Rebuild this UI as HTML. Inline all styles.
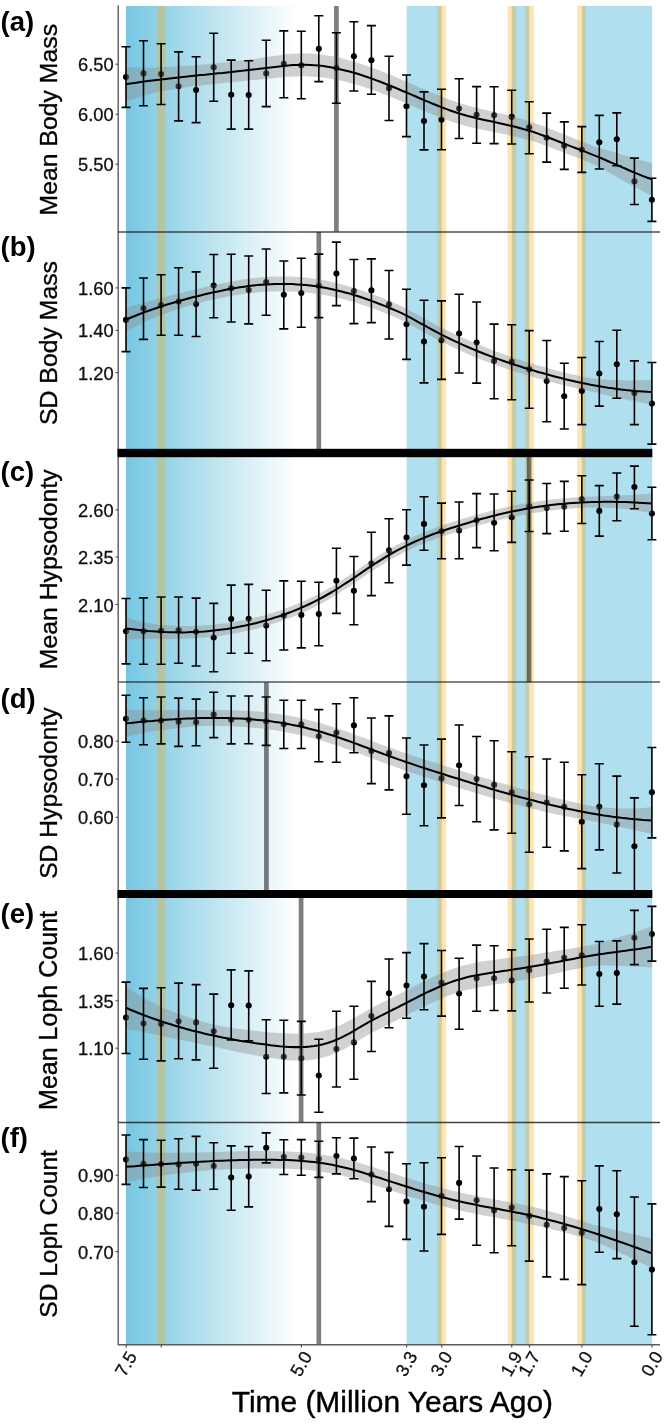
<!DOCTYPE html>
<html lang="en"><head><meta charset="utf-8"><title>Figure</title>
<style>html,body{margin:0;padding:0;background:#fff}body{width:666px;height:1426px;overflow:hidden}</style>
</head><body>
<svg width="666" height="1426" viewBox="0 0 666 1426" style="display:block">
<defs><linearGradient id="g" x1="0" y1="0" x2="1" y2="0"><stop offset="0" stop-color="#77c6e2"/><stop offset="0.12" stop-color="#88cee6"/><stop offset="0.5" stop-color="#bde4ef"/><stop offset="0.85" stop-color="#eef8fb"/><stop offset="0.98" stop-color="#ffffff"/></linearGradient>
<clipPath id="ca"><rect x="100" y="5.9" width="566" height="225.9"/></clipPath>
<clipPath id="cb"><rect x="100" y="231.8" width="566" height="224.89999999999998"/></clipPath>
<clipPath id="cc"><rect x="100" y="456.5" width="566" height="225.70000000000005"/></clipPath>
<clipPath id="cd"><rect x="100" y="682.2" width="566" height="215.79999999999995"/></clipPath>
<clipPath id="ce"><rect x="100" y="897.5" width="566" height="224.79999999999995"/></clipPath>
<clipPath id="cf"><rect x="100" y="1122.3" width="566" height="221.9000000000001"/></clipPath>
</defs>
<rect width="666" height="1426" fill="#fff"/>
<rect x="126" y="5.9" width="175" height="1338.3" fill="url(#g)"/>
<rect x="406.6" y="5.9" width="35.1" height="1338.3" fill="#b0dff0"/>
<rect x="511.7" y="5.9" width="17.6" height="1338.3" fill="#b0dff0"/>
<rect x="581.8" y="5.9" width="70.4" height="1338.3" fill="#b0dff0"/>
<rect x="156.7" y="5.9" width="9.1" height="1338.3" fill="#ffa500" fill-opacity="0.3"/>
<rect x="437.0" y="5.9" width="9.1" height="1338.3" fill="#ffa500" fill-opacity="0.3"/>
<rect x="507.5" y="5.9" width="8.8" height="1338.3" fill="#ffa500" fill-opacity="0.3"/>
<rect x="525.0" y="5.9" width="8.7" height="1338.3" fill="#ffa500" fill-opacity="0.3"/>
<rect x="577.2" y="5.9" width="8.8" height="1338.3" fill="#ffa500" fill-opacity="0.3"/>
<line x1="117.6" x2="660" y1="232.0" y2="232.0" stroke="#111" stroke-opacity="0.56" stroke-width="2.0"/>
<line x1="117.6" x2="660" y1="682.0" y2="682.0" stroke="#111" stroke-opacity="0.52" stroke-width="2.0"/>
<line x1="117.6" x2="660" y1="1122.45" y2="1122.45" stroke="#111" stroke-opacity="0.78" stroke-width="1.4"/>
<path d="M118.2,5.3V1344.7H660" fill="none" stroke="#5c5c5c" stroke-width="1.4" stroke-linejoin="round"/>
<line x1="126.2" x2="126.2" y1="1345" y2="1347.5" stroke="#555" stroke-width="1.2"/>
<line x1="161.3" x2="161.3" y1="1345" y2="1347.5" stroke="#555" stroke-width="1.2"/>
<line x1="301.4" x2="301.4" y1="1345" y2="1347.5" stroke="#555" stroke-width="1.2"/>
<line x1="406.6" x2="406.6" y1="1345" y2="1347.5" stroke="#555" stroke-width="1.2"/>
<line x1="441.7" x2="441.7" y1="1345" y2="1347.5" stroke="#555" stroke-width="1.2"/>
<line x1="511.7" x2="511.7" y1="1345" y2="1347.5" stroke="#555" stroke-width="1.2"/>
<line x1="529.4" x2="529.4" y1="1345" y2="1347.5" stroke="#555" stroke-width="1.2"/>
<line x1="581.8" x2="581.8" y1="1345" y2="1347.5" stroke="#555" stroke-width="1.2"/>
<line x1="652.0" x2="652.0" y1="1345" y2="1347.5" stroke="#555" stroke-width="1.2"/>
<g clip-path="url(#ca)">
<line x1="336.4" x2="336.4" y1="5.9" y2="231.8" stroke="#000" stroke-opacity="0.5" stroke-width="4.7"/>
<circle cx="126.0" cy="77.1" r="3.05" fill="#000"/>
<circle cx="143.5" cy="73.4" r="3.05" fill="#000"/>
<circle cx="161.1" cy="74.0" r="3.05" fill="#000"/>
<circle cx="178.6" cy="86.2" r="3.05" fill="#000"/>
<circle cx="196.1" cy="90.0" r="3.05" fill="#000"/>
<circle cx="213.7" cy="67.3" r="3.05" fill="#000"/>
<circle cx="231.2" cy="94.8" r="3.05" fill="#000"/>
<circle cx="248.7" cy="95.0" r="3.05" fill="#000"/>
<circle cx="266.2" cy="73.4" r="3.05" fill="#000"/>
<circle cx="283.8" cy="63.7" r="3.05" fill="#000"/>
<circle cx="301.3" cy="65.4" r="3.05" fill="#000"/>
<circle cx="318.8" cy="48.8" r="3.05" fill="#000"/>
<circle cx="336.4" cy="67.9" r="3.05" fill="#000"/>
<circle cx="353.9" cy="56.3" r="3.05" fill="#000"/>
<circle cx="371.4" cy="60.3" r="3.05" fill="#000"/>
<circle cx="389.0" cy="88.3" r="3.05" fill="#000"/>
<circle cx="406.5" cy="106.2" r="3.05" fill="#000"/>
<circle cx="424.0" cy="121.1" r="3.05" fill="#000"/>
<circle cx="441.5" cy="119.8" r="3.05" fill="#000"/>
<circle cx="459.1" cy="108.5" r="3.05" fill="#000"/>
<circle cx="476.6" cy="114.8" r="3.05" fill="#000"/>
<circle cx="494.1" cy="115.2" r="3.05" fill="#000"/>
<circle cx="511.7" cy="116.9" r="3.05" fill="#000"/>
<circle cx="529.2" cy="127.2" r="3.05" fill="#000"/>
<circle cx="546.7" cy="137.7" r="3.05" fill="#000"/>
<circle cx="564.2" cy="145.7" r="3.05" fill="#000"/>
<circle cx="581.8" cy="149.7" r="3.05" fill="#000"/>
<circle cx="599.3" cy="142.3" r="3.05" fill="#000"/>
<circle cx="616.8" cy="139.2" r="3.05" fill="#000"/>
<circle cx="634.4" cy="181.4" r="3.05" fill="#000"/>
<circle cx="651.9" cy="199.7" r="3.05" fill="#000"/>
<polygon points="126.0,66.7 130.4,66.9 134.8,67.2 139.1,67.4 143.5,67.5 147.9,67.7 152.3,67.7 156.7,67.6 161.1,67.4 165.4,67.1 169.8,66.9 174.2,66.6 178.6,66.3 183.0,66.0 187.4,65.7 191.7,65.4 196.1,65.1 200.5,64.8 204.9,64.4 209.3,64.0 213.7,63.6 218.0,63.1 222.4,62.6 226.8,62.2 231.2,61.7 235.6,61.2 239.9,60.6 244.3,60.1 248.7,59.6 253.1,59.0 257.5,58.4 261.9,57.8 266.2,57.2 270.6,56.5 275.0,55.8 279.4,55.2 283.8,54.6 288.2,54.1 292.5,53.7 296.9,53.4 301.3,53.3 305.7,53.3 310.1,53.4 314.4,53.7 318.8,54.2 323.2,54.7 327.6,55.4 332.0,56.2 336.4,57.1 340.7,58.1 345.1,59.2 349.5,60.4 353.9,61.7 358.3,63.0 362.7,64.5 367.0,66.0 371.4,67.5 375.8,69.1 380.2,70.8 384.6,72.5 389.0,74.3 393.3,76.1 397.7,77.9 402.1,79.8 406.5,81.7 410.9,83.6 415.2,85.5 419.6,87.4 424.0,89.3 428.4,91.1 432.8,93.0 437.2,94.8 441.5,96.5 445.9,98.2 450.3,99.9 454.7,101.4 459.1,102.9 463.5,104.2 467.8,105.5 472.2,106.7 476.6,107.8 481.0,108.9 485.4,109.9 489.7,111.0 494.1,112.0 498.5,113.0 502.9,114.1 507.3,115.1 511.7,116.2 516.0,117.4 520.4,118.6 524.8,119.8 529.2,121.2 533.6,122.7 538.0,124.2 542.3,125.8 546.7,127.5 551.1,129.3 555.5,131.0 559.9,132.8 564.3,134.5 568.6,136.3 573.0,138.0 577.4,139.7 581.8,141.4 586.2,143.1 590.5,144.9 594.9,146.5 599.3,147.9 603.7,149.2 608.1,150.4 612.5,151.7 616.8,153.0 621.2,154.4 625.6,155.8 630.0,157.1 634.4,158.4 638.8,159.7 643.1,160.8 647.5,161.9 651.9,162.9 651.9,195.9 647.5,193.7 643.1,191.4 638.8,189.1 634.4,186.7 630.0,184.3 625.6,181.9 621.2,179.4 616.8,177.0 612.5,174.5 608.1,171.9 603.7,169.4 599.3,167.0 594.9,164.8 590.5,162.9 586.2,161.2 581.8,159.5 577.4,157.8 573.0,156.1 568.6,154.5 564.3,152.8 559.9,151.1 555.5,149.4 551.1,147.8 546.7,146.1 542.3,144.5 538.0,143.0 533.6,141.6 529.2,140.2 524.8,138.9 520.4,137.8 516.0,136.7 511.7,135.7 507.3,134.8 502.9,133.9 498.5,133.0 494.1,132.2 489.7,131.3 485.4,130.4 481.0,129.5 476.6,128.6 472.2,127.6 467.8,126.5 463.5,125.3 459.1,124.1 454.7,122.7 450.3,121.2 445.9,119.6 441.5,118.0 437.2,116.2 432.8,114.5 428.4,112.7 424.0,110.8 419.6,109.0 415.2,107.1 410.9,105.3 406.5,103.4 402.1,101.5 397.7,99.7 393.3,97.9 389.0,96.1 384.6,94.4 380.2,92.7 375.8,91.1 371.4,89.5 367.0,88.0 362.7,86.6 358.3,85.2 353.9,83.9 349.5,82.7 345.1,81.6 340.7,80.6 336.4,79.7 332.0,78.9 327.6,78.2 323.2,77.5 318.8,77.0 314.4,76.7 310.1,76.4 305.7,76.3 301.3,76.3 296.9,76.4 292.5,76.6 288.2,76.8 283.8,77.2 279.4,77.6 275.0,78.0 270.6,78.4 266.2,78.8 261.9,79.3 257.5,79.7 253.1,80.1 248.7,80.6 244.3,81.0 239.9,81.4 235.6,81.8 231.2,82.3 226.8,82.7 222.4,83.1 218.0,83.5 213.7,84.0 209.3,84.4 204.9,84.9 200.5,85.4 196.1,86.0 191.7,86.6 187.4,87.2 183.0,87.8 178.6,88.5 174.2,89.2 169.8,89.9 165.4,90.6 161.1,91.4 156.7,92.3 152.3,93.3 147.9,94.5 143.5,95.7 139.1,97.1 134.8,98.6 130.4,100.1 126.0,101.7" fill="#8c8c8c" fill-opacity="0.4"/>
<polyline points="126.0,84.2 130.4,83.5 134.8,82.9 139.1,82.3 143.5,81.6 147.9,81.1 152.3,80.5 156.7,79.9 161.1,79.4 165.4,78.9 169.8,78.4 174.2,77.9 178.6,77.4 183.0,76.9 187.4,76.5 191.7,76.0 196.1,75.5 200.5,75.1 204.9,74.7 209.3,74.2 213.7,73.8 218.0,73.3 222.4,72.9 226.8,72.4 231.2,72.0 235.6,71.5 239.9,71.0 244.3,70.6 248.7,70.1 253.1,69.6 257.5,69.1 261.9,68.5 266.2,68.0 270.6,67.4 275.0,66.9 279.4,66.4 283.8,65.9 288.2,65.5 292.5,65.1 296.9,64.9 301.3,64.8 305.7,64.8 310.1,64.9 314.4,65.2 318.8,65.6 323.2,66.1 327.6,66.8 332.0,67.5 336.4,68.4 340.7,69.4 345.1,70.4 349.5,71.6 353.9,72.8 358.3,74.1 362.7,75.5 367.0,77.0 371.4,78.5 375.8,80.1 380.2,81.8 384.6,83.5 389.0,85.2 393.3,87.0 397.7,88.8 402.1,90.7 406.5,92.5 410.9,94.4 415.2,96.3 419.6,98.2 424.0,100.1 428.4,101.9 432.8,103.7 437.2,105.5 441.5,107.2 445.9,108.9 450.3,110.5 454.7,112.0 459.1,113.5 463.5,114.8 467.8,116.0 472.2,117.1 476.6,118.2 481.0,119.2 485.4,120.2 489.7,121.1 494.1,122.1 498.5,123.0 502.9,124.0 507.3,124.9 511.7,126.0 516.0,127.0 520.4,128.2 524.8,129.4 529.2,130.7 533.6,132.1 538.0,133.6 542.3,135.2 546.7,136.8 551.1,138.5 555.5,140.2 559.9,142.0 564.3,143.7 568.6,145.4 573.0,147.1 577.4,148.7 581.8,150.4 586.2,152.1 590.5,153.9 594.9,155.6 599.3,157.4 603.7,159.3 608.1,161.2 612.5,163.1 616.8,165.0 621.2,166.9 625.6,168.8 630.0,170.7 634.4,172.6 638.8,174.4 643.1,176.1 647.5,177.8 651.9,179.4" fill="none" stroke="#000" stroke-width="2.05" stroke-linejoin="round"/>
<path d="M126.0,46.7V107.4M121.5,46.7h9M121.5,107.4h9M143.5,40.8V105.7M139.0,40.8h9M139.0,105.7h9M161.1,43.7V104.5M156.6,43.7h9M156.6,104.5h9M178.6,51.9V120.9M174.1,51.9h9M174.1,120.9h9M196.1,56.8V122.6M191.6,56.8h9M191.6,122.6h9M213.7,33.2V101.3M209.2,33.2h9M209.2,101.3h9M231.2,60.1V129.1M226.7,60.1h9M226.7,129.1h9M248.7,60.8V129.1M244.2,60.8h9M244.2,129.1h9M266.2,40.2V106.6M261.7,40.2h9M261.7,106.6h9M283.8,30.9V97.8M279.3,30.9h9M279.3,97.8h9M301.3,31.3V98.8M296.8,31.3h9M296.8,98.8h9M318.8,15.8V81.6M314.3,15.8h9M314.3,81.6h9M336.4,32.8V103.2M331.9,32.8h9M331.9,103.2h9M353.9,21.7V91.0M349.4,21.7h9M349.4,91.0h9M371.4,25.6V94.2M366.9,25.6h9M366.9,94.2h9M389.0,56.3V120.5M384.5,56.3h9M384.5,120.5h9M406.5,75.0V136.6M402.0,75.0h9M402.0,136.6h9M424.0,91.9V149.9M419.5,91.9h9M419.5,149.9h9M441.5,89.3V149.7M437.0,89.3h9M437.0,149.7h9M459.1,78.8V138.5M454.6,78.8h9M454.6,138.5h9M476.6,86.6V143.2M472.1,86.6h9M472.1,143.2h9M494.1,86.8V143.6M489.6,86.8h9M489.6,143.6h9M511.7,90.2V144.0M507.2,90.2h9M507.2,144.0h9M529.2,101.7V153.7M524.7,101.7h9M524.7,153.7h9M546.7,113.1V162.1M542.2,113.1h9M542.2,162.1h9M564.2,121.9V169.4M559.8,121.9h9M559.8,169.4h9M581.8,126.6V172.4M577.3,126.6h9M577.3,172.4h9M599.3,115.4V169.0M594.8,115.4h9M594.8,169.0h9M616.8,112.9V165.7M612.3,112.9h9M612.3,165.7h9M634.4,158.1V204.5M629.9,158.1h9M629.9,204.5h9M651.9,178.3V221.4M647.4,178.3h9M647.4,221.4h9" fill="none" stroke="#000" stroke-width="1.6"/>
</g>
<g clip-path="url(#cb)">
<line x1="318.8" x2="318.8" y1="231.8" y2="452.7" stroke="#000" stroke-opacity="0.5" stroke-width="4.7"/>
<circle cx="126.0" cy="319.9" r="3.05" fill="#000"/>
<circle cx="143.5" cy="308.3" r="3.05" fill="#000"/>
<circle cx="161.1" cy="305.1" r="3.05" fill="#000"/>
<circle cx="178.6" cy="301.6" r="3.05" fill="#000"/>
<circle cx="196.1" cy="304.1" r="3.05" fill="#000"/>
<circle cx="213.7" cy="285.6" r="3.05" fill="#000"/>
<circle cx="231.2" cy="288.3" r="3.05" fill="#000"/>
<circle cx="248.7" cy="290" r="3.05" fill="#000"/>
<circle cx="266.2" cy="282" r="3.05" fill="#000"/>
<circle cx="283.8" cy="294.8" r="3.05" fill="#000"/>
<circle cx="301.3" cy="293" r="3.05" fill="#000"/>
<circle cx="318.8" cy="285.8" r="3.05" fill="#000"/>
<circle cx="336.4" cy="273.6" r="3.05" fill="#000"/>
<circle cx="353.9" cy="291.1" r="3.05" fill="#000"/>
<circle cx="371.4" cy="290.4" r="3.05" fill="#000"/>
<circle cx="389.0" cy="304.3" r="3.05" fill="#000"/>
<circle cx="406.5" cy="324.3" r="3.05" fill="#000"/>
<circle cx="424.0" cy="341.5" r="3.05" fill="#000"/>
<circle cx="441.5" cy="340.3" r="3.05" fill="#000"/>
<circle cx="459.1" cy="333.5" r="3.05" fill="#000"/>
<circle cx="476.6" cy="342.6" r="3.05" fill="#000"/>
<circle cx="494.1" cy="360.9" r="3.05" fill="#000"/>
<circle cx="511.7" cy="361.9" r="3.05" fill="#000"/>
<circle cx="529.2" cy="369.3" r="3.05" fill="#000"/>
<circle cx="546.7" cy="381" r="3.05" fill="#000"/>
<circle cx="564.2" cy="396.2" r="3.05" fill="#000"/>
<circle cx="581.8" cy="390.9" r="3.05" fill="#000"/>
<circle cx="599.3" cy="373.5" r="3.05" fill="#000"/>
<circle cx="616.8" cy="364.2" r="3.05" fill="#000"/>
<circle cx="634.4" cy="393" r="3.05" fill="#000"/>
<circle cx="651.9" cy="403.5" r="3.05" fill="#000"/>
<polygon points="126.0,307.7 130.4,306.4 134.8,305.2 139.1,303.9 143.5,302.7 147.9,301.6 152.3,300.4 156.7,299.2 161.1,298.0 165.4,296.9 169.8,295.7 174.2,294.6 178.6,293.5 183.0,292.4 187.4,291.3 191.7,290.3 196.1,289.2 200.5,288.2 204.9,287.1 209.3,286.1 213.7,285.1 218.0,284.2 222.4,283.2 226.8,282.4 231.2,281.5 235.6,280.8 239.9,280.0 244.3,279.3 248.7,278.7 253.1,278.2 257.5,277.7 261.9,277.3 266.2,276.9 270.6,276.7 275.0,276.5 279.4,276.4 283.8,276.4 288.2,276.5 292.5,276.6 296.9,276.9 301.3,277.2 305.7,277.6 310.1,278.1 314.4,278.7 318.8,279.4 323.2,280.1 327.6,281.0 332.0,281.9 336.4,282.9 340.7,284.0 345.1,285.2 349.5,286.4 353.9,287.8 358.3,289.2 362.7,290.7 367.0,292.2 371.4,293.8 375.8,295.4 380.2,297.1 384.6,298.9 389.0,300.7 393.3,302.5 397.7,304.4 402.1,306.4 406.5,308.6 410.9,310.9 415.2,313.3 419.6,315.8 424.0,318.2 428.4,320.7 432.8,323.0 437.2,325.4 441.5,327.6 445.9,329.8 450.3,332.0 454.7,334.1 459.1,336.1 463.5,338.1 467.8,340.0 472.2,341.9 476.6,343.7 481.0,345.5 485.4,347.3 489.7,349.0 494.1,350.7 498.5,352.3 502.9,354.0 507.3,355.5 511.7,357.1 516.0,358.6 520.4,360.0 524.8,361.4 529.2,362.8 533.6,364.1 538.0,365.4 542.3,366.6 546.7,367.8 551.1,369.0 555.5,370.2 559.9,371.3 564.3,372.4 568.6,373.5 573.0,374.5 577.4,375.5 581.8,376.4 586.2,377.3 590.5,378.2 594.9,378.8 599.3,379.3 603.7,379.6 608.1,379.8 612.5,380.0 616.8,380.1 621.2,380.3 625.6,380.4 630.0,380.4 634.4,380.4 638.8,380.3 643.1,380.2 647.5,379.9 651.9,379.7 651.9,404.3 647.5,403.6 643.1,402.9 638.8,402.1 634.4,401.3 630.0,400.5 625.6,399.6 621.2,398.7 616.8,397.7 612.5,396.7 608.1,395.5 603.7,394.4 599.3,393.2 594.9,392.1 590.5,391.2 586.2,390.3 581.8,389.4 577.4,388.5 573.0,387.5 568.6,386.5 564.3,385.4 559.9,384.3 555.5,383.2 551.1,382.0 546.7,380.8 542.3,379.6 538.0,378.4 533.6,377.1 529.2,375.8 524.8,374.4 520.4,373.1 516.0,371.7 511.7,370.3 507.3,368.9 502.9,367.4 498.5,366.0 494.1,364.4 489.7,362.8 485.4,361.2 481.0,359.5 476.6,357.7 472.2,355.9 467.8,354.0 463.5,352.1 459.1,350.1 454.7,348.1 450.3,346.0 445.9,343.8 441.5,341.6 437.2,339.4 432.8,337.0 428.4,334.7 424.0,332.2 419.6,329.8 415.2,327.3 410.9,324.9 406.5,322.6 402.1,320.4 397.7,318.4 393.3,316.5 389.0,314.7 384.6,312.9 380.2,311.2 375.8,309.6 371.4,307.9 367.0,306.4 362.7,304.9 358.3,303.5 353.9,302.1 349.5,300.9 345.1,299.6 340.7,298.5 336.4,297.5 332.0,296.5 327.6,295.6 323.2,294.9 318.8,294.2 314.4,293.5 310.1,293.0 305.7,292.5 301.3,292.2 296.9,291.9 292.5,291.6 288.2,291.5 283.8,291.4 279.4,291.4 275.0,291.5 270.6,291.6 266.2,291.8 261.9,292.1 257.5,292.5 253.1,292.9 248.7,293.4 244.3,294.0 239.9,294.6 235.6,295.3 231.2,296.0 226.8,296.8 222.4,297.7 218.0,298.6 213.7,299.5 209.3,300.5 204.9,301.6 200.5,302.7 196.1,303.8 191.7,305.0 187.4,306.2 183.0,307.5 178.6,308.9 174.2,310.4 169.8,311.9 165.4,313.4 161.1,315.0 156.7,316.7 152.3,318.5 147.9,320.5 143.5,322.5 139.1,324.7 134.8,326.9 130.4,329.3 126.0,331.7" fill="#8c8c8c" fill-opacity="0.4"/>
<polyline points="126.0,319.7 130.4,317.8 134.8,316.0 139.1,314.3 143.5,312.6 147.9,311.0 152.3,309.5 156.7,308.0 161.1,306.5 165.4,305.1 169.8,303.8 174.2,302.5 178.6,301.2 183.0,300.0 187.4,298.8 191.7,297.6 196.1,296.5 200.5,295.4 204.9,294.3 209.3,293.3 213.7,292.3 218.0,291.4 222.4,290.5 226.8,289.6 231.2,288.8 235.6,288.0 239.9,287.3 244.3,286.7 248.7,286.1 253.1,285.6 257.5,285.1 261.9,284.7 266.2,284.4 270.6,284.2 275.0,284.0 279.4,283.9 283.8,283.9 288.2,284.0 292.5,284.1 296.9,284.4 301.3,284.7 305.7,285.1 310.1,285.6 314.4,286.1 318.8,286.8 323.2,287.5 327.6,288.3 332.0,289.2 336.4,290.2 340.7,291.3 345.1,292.4 349.5,293.6 353.9,295.0 358.3,296.3 362.7,297.8 367.0,299.3 371.4,300.9 375.8,302.5 380.2,304.2 384.6,305.9 389.0,307.7 393.3,309.5 397.7,311.4 402.1,313.4 406.5,315.6 410.9,317.9 415.2,320.3 419.6,322.8 424.0,325.2 428.4,327.7 432.8,330.0 437.2,332.4 441.5,334.6 445.9,336.8 450.3,339.0 454.7,341.1 459.1,343.1 463.5,345.1 467.8,347.0 472.2,348.9 476.6,350.7 481.0,352.5 485.4,354.2 489.7,355.9 494.1,357.6 498.5,359.1 502.9,360.7 507.3,362.2 511.7,363.7 516.0,365.1 520.4,366.5 524.8,367.9 529.2,369.3 533.6,370.6 538.0,371.9 542.3,373.1 546.7,374.3 551.1,375.5 555.5,376.7 559.9,377.8 564.3,378.9 568.6,380.0 573.0,381.0 577.4,382.0 581.8,382.9 586.2,383.8 590.5,384.7 594.9,385.5 599.3,386.3 603.7,387.0 608.1,387.7 612.5,388.3 616.8,388.9 621.2,389.5 625.6,390.0 630.0,390.4 634.4,390.9 638.8,391.2 643.1,391.5 647.5,391.8 651.9,392.0" fill="none" stroke="#000" stroke-width="2.05" stroke-linejoin="round"/>
<path d="M126.0,287.9V351.6M121.5,287.9h9M121.5,351.6h9M143.5,278V339.4M139.0,278h9M139.0,339.4h9M161.1,274.7V335.2M156.6,274.7h9M156.6,335.2h9M178.6,267.7V335.2M174.1,267.7h9M174.1,335.2h9M196.1,271.9V336.5M191.6,271.9h9M191.6,336.5h9M213.7,254.5V317.8M209.2,254.5h9M209.2,317.8h9M231.2,254.3V322M226.7,254.3h9M226.7,322h9M248.7,256V323.9M244.2,256h9M244.2,323.9h9M266.2,249V315.2M261.7,249h9M261.7,315.2h9M283.8,261V328.9M279.3,261h9M279.3,328.9h9M301.3,258.3V327.2M296.8,258.3h9M296.8,327.2h9M318.8,254.1V317.6M314.3,254.1h9M314.3,317.6h9M336.4,242.1V305.6M331.9,242.1h9M331.9,305.6h9M353.9,259.5V323.6M349.4,259.5h9M349.4,323.6h9M371.4,258.9V322.6M366.9,258.9h9M366.9,322.6h9M389.0,270.5V339M384.5,270.5h9M384.5,339h9M406.5,289.2V359.4M402.0,289.2h9M402.0,359.4h9M424.0,300.3V382.9M419.5,300.3h9M419.5,382.9h9M441.5,300.9V379.4M437.0,300.9h9M437.0,379.4h9M459.1,294.2V373M454.6,294.2h9M454.6,373h9M476.6,302V383.1M472.1,302h9M472.1,383.1h9M494.1,324.1V398.7M489.6,324.1h9M489.6,398.7h9M511.7,324.7V399.7M507.2,324.7h9M507.2,399.7h9M529.2,330.6V408.2M524.7,330.6h9M524.7,408.2h9M546.7,340.5V421.8M542.2,340.5h9M542.2,421.8h9M564.2,363.2V429M559.8,363.2h9M559.8,429h9M581.8,357.5V424.6M577.3,357.5h9M577.3,424.6h9M599.3,341.5V406.1M594.8,341.5h9M594.8,406.1h9M616.8,330.2V398.3M612.3,330.2h9M612.3,398.3h9M634.4,360.9V424.6M629.9,360.9h9M629.9,424.6h9M651.9,362.5V444.1M647.4,362.5h9M647.4,444.1h9" fill="none" stroke="#000" stroke-width="1.6"/>
</g>
<g clip-path="url(#cc)">
<line x1="529.1" x2="529.1" y1="456.5" y2="682.2" stroke="#000" stroke-opacity="0.5" stroke-width="4.7"/>
<circle cx="126.0" cy="631.3" r="3.05" fill="#000"/>
<circle cx="143.5" cy="631.3" r="3.05" fill="#000"/>
<circle cx="161.1" cy="630.7" r="3.05" fill="#000"/>
<circle cx="178.6" cy="630.3" r="3.05" fill="#000"/>
<circle cx="196.1" cy="631.7" r="3.05" fill="#000"/>
<circle cx="213.7" cy="637.6" r="3.05" fill="#000"/>
<circle cx="231.2" cy="619.1" r="3.05" fill="#000"/>
<circle cx="248.7" cy="618.7" r="3.05" fill="#000"/>
<circle cx="266.2" cy="625.6" r="3.05" fill="#000"/>
<circle cx="283.8" cy="615.5" r="3.05" fill="#000"/>
<circle cx="301.3" cy="614.9" r="3.05" fill="#000"/>
<circle cx="318.8" cy="614.1" r="3.05" fill="#000"/>
<circle cx="336.4" cy="580.7" r="3.05" fill="#000"/>
<circle cx="353.9" cy="590.7" r="3.05" fill="#000"/>
<circle cx="371.4" cy="563.6" r="3.05" fill="#000"/>
<circle cx="389.0" cy="550.4" r="3.05" fill="#000"/>
<circle cx="406.5" cy="537.6" r="3.05" fill="#000"/>
<circle cx="424.0" cy="523.9" r="3.05" fill="#000"/>
<circle cx="441.5" cy="531.3" r="3.05" fill="#000"/>
<circle cx="459.1" cy="530.4" r="3.05" fill="#000"/>
<circle cx="476.6" cy="520.3" r="3.05" fill="#000"/>
<circle cx="494.1" cy="522.8" r="3.05" fill="#000"/>
<circle cx="511.7" cy="517.2" r="3.05" fill="#000"/>
<circle cx="529.2" cy="506.2" r="3.05" fill="#000"/>
<circle cx="546.7" cy="508.1" r="3.05" fill="#000"/>
<circle cx="564.2" cy="506.7" r="3.05" fill="#000"/>
<circle cx="581.8" cy="499.3" r="3.05" fill="#000"/>
<circle cx="599.3" cy="510.9" r="3.05" fill="#000"/>
<circle cx="616.8" cy="496.8" r="3.05" fill="#000"/>
<circle cx="634.4" cy="487.1" r="3.05" fill="#000"/>
<circle cx="651.9" cy="513.6" r="3.05" fill="#000"/>
<polygon points="126.0,617.4 130.4,618.7 134.8,619.9 139.1,621.0 143.5,622.1 147.9,623.0 152.3,623.8 156.7,624.4 161.1,624.9 165.4,625.2 169.8,625.5 174.2,625.7 178.6,625.9 183.0,625.9 187.4,625.9 191.7,625.9 196.1,625.7 200.5,625.6 204.9,625.3 209.3,625.0 213.7,624.6 218.0,624.1 222.4,623.6 226.8,623.0 231.2,622.4 235.6,621.6 239.9,620.8 244.3,620.0 248.7,619.1 253.1,618.1 257.5,617.0 261.9,615.9 266.2,614.7 270.6,613.4 275.0,612.0 279.4,610.6 283.8,609.1 288.2,607.4 292.5,605.8 296.9,604.0 301.3,602.1 305.7,600.2 310.1,598.1 314.4,596.0 318.8,593.7 323.2,591.4 327.6,588.9 332.0,586.4 336.4,583.7 340.7,580.9 345.1,578.1 349.5,575.2 353.9,572.2 358.3,569.2 362.7,566.2 367.0,563.2 371.4,560.3 375.8,557.5 380.2,554.7 384.6,552.0 389.0,549.4 393.3,546.9 397.7,544.5 402.1,542.2 406.5,540.0 410.9,537.9 415.2,535.9 419.6,534.0 424.0,532.2 428.4,530.4 432.8,528.7 437.2,527.1 441.5,525.6 445.9,524.1 450.3,522.7 454.7,521.3 459.1,519.9 463.5,518.6 467.8,517.3 472.2,516.0 476.6,514.8 481.0,513.5 485.4,512.4 489.7,511.2 494.1,510.1 498.5,509.0 502.9,508.0 507.3,507.0 511.7,506.0 516.0,505.1 520.4,504.3 524.8,503.5 529.2,502.7 533.6,502.0 538.0,501.3 542.3,500.7 546.7,500.1 551.1,499.6 555.5,499.1 559.9,498.7 564.3,498.2 568.6,497.9 573.0,497.6 577.4,497.3 581.8,497.0 586.2,496.8 590.5,496.7 594.9,496.5 599.3,496.3 603.7,496.1 608.1,495.9 612.5,495.7 616.8,495.6 621.2,495.4 625.6,495.2 630.0,495.0 634.4,494.7 638.8,494.4 643.1,494.1 647.5,493.8 651.9,493.5 651.9,513.5 647.5,512.6 643.1,511.7 638.8,510.9 634.4,510.1 630.0,509.5 625.6,509.0 621.2,508.5 616.8,508.2 612.5,507.9 608.1,507.7 603.7,507.5 599.3,507.4 594.9,507.4 590.5,507.5 586.2,507.6 581.8,507.9 577.4,508.1 573.0,508.4 568.6,508.7 564.3,509.1 559.9,509.6 555.5,510.0 551.1,510.5 546.7,511.1 542.3,511.7 538.0,512.4 533.6,513.1 529.2,513.8 524.8,514.6 520.4,515.4 516.0,516.3 511.7,517.2 507.3,518.2 502.9,519.2 498.5,520.2 494.1,521.3 489.7,522.4 485.4,523.6 481.0,524.7 476.6,526.0 472.2,527.2 467.8,528.5 463.5,529.8 459.1,531.1 454.7,532.5 450.3,533.9 445.9,535.3 441.5,536.8 437.2,538.3 432.8,539.9 428.4,541.6 424.0,543.4 419.6,545.2 415.2,547.1 410.9,549.1 406.5,551.2 402.1,553.4 397.7,555.7 393.3,558.1 389.0,560.6 384.6,563.2 380.2,565.9 375.8,568.7 371.4,571.5 367.0,574.4 362.7,577.4 358.3,580.4 353.9,583.4 349.5,586.4 345.1,589.3 340.7,592.1 336.4,594.9 332.0,597.6 327.6,600.1 323.2,602.6 318.8,604.9 314.4,607.2 310.1,609.3 305.7,611.4 301.3,613.3 296.9,615.2 292.5,617.0 288.2,618.6 283.8,620.3 279.4,621.8 275.0,623.2 270.6,624.6 266.2,625.9 261.9,627.2 257.5,628.4 253.1,629.5 248.7,630.5 244.3,631.5 239.9,632.4 235.6,633.3 231.2,634.1 226.8,634.8 222.4,635.4 218.0,636.0 213.7,636.6 209.3,637.1 204.9,637.5 200.5,637.8 196.1,638.1 191.7,638.4 187.4,638.6 183.0,638.8 178.6,638.9 174.2,638.9 169.8,639.0 165.4,639.0 161.1,638.9 156.7,638.8 152.3,638.9 147.9,638.9 143.5,639.0 139.1,639.1 134.8,639.3 130.4,639.3 126.0,639.4" fill="#8c8c8c" fill-opacity="0.4"/>
<polyline points="126.0,628.4 130.4,629.0 134.8,629.6 139.1,630.1 143.5,630.6 147.9,631.0 152.3,631.3 156.7,631.6 161.1,631.9 165.4,632.1 169.8,632.2 174.2,632.3 178.6,632.4 183.0,632.4 187.4,632.3 191.7,632.1 196.1,631.9 200.5,631.7 204.9,631.4 209.3,631.0 213.7,630.6 218.0,630.1 222.4,629.5 226.8,628.9 231.2,628.2 235.6,627.4 239.9,626.6 244.3,625.7 248.7,624.8 253.1,623.8 257.5,622.7 261.9,621.5 266.2,620.3 270.6,619.0 275.0,617.6 279.4,616.2 283.8,614.7 288.2,613.0 292.5,611.4 296.9,609.6 301.3,607.7 305.7,605.8 310.1,603.7 314.4,601.6 318.8,599.3 323.2,597.0 327.6,594.5 332.0,592.0 336.4,589.3 340.7,586.5 345.1,583.7 349.5,580.8 353.9,577.8 358.3,574.8 362.7,571.8 367.0,568.8 371.4,565.9 375.8,563.1 380.2,560.3 384.6,557.6 389.0,555.0 393.3,552.5 397.7,550.1 402.1,547.8 406.5,545.6 410.9,543.5 415.2,541.5 419.6,539.6 424.0,537.8 428.4,536.0 432.8,534.3 437.2,532.7 441.5,531.2 445.9,529.7 450.3,528.3 454.7,526.9 459.1,525.5 463.5,524.2 467.8,522.9 472.2,521.6 476.6,520.4 481.0,519.1 485.4,518.0 489.7,516.8 494.1,515.7 498.5,514.6 502.9,513.6 507.3,512.6 511.7,511.6 516.0,510.7 520.4,509.9 524.8,509.0 529.2,508.3 533.6,507.5 538.0,506.8 542.3,506.2 546.7,505.6 551.1,505.1 555.5,504.6 559.9,504.1 564.3,503.7 568.6,503.3 573.0,503.0 577.4,502.7 581.8,502.5 586.2,502.2 590.5,502.1 594.9,501.9 599.3,501.9 603.7,501.8 608.1,501.8 612.5,501.8 616.8,501.9 621.2,502.0 625.6,502.1 630.0,502.2 634.4,502.4 638.8,502.7 643.1,502.9 647.5,503.2 651.9,503.5" fill="none" stroke="#000" stroke-width="2.05" stroke-linejoin="round"/>
<path d="M126.0,598.5V663.9M121.5,598.5h9M121.5,663.9h9M143.5,597.9V664.3M139.0,597.9h9M139.0,664.3h9M161.1,597V664.3M156.6,597h9M156.6,664.3h9M178.6,597V663.3M174.1,597h9M174.1,663.3h9M196.1,598.1V666M191.6,598.1h9M191.6,666h9M213.7,603.4V671.7M209.2,603.4h9M209.2,671.7h9M231.2,585.1V653.2M226.7,585.1h9M226.7,653.2h9M248.7,584.4V653.2M244.2,584.4h9M244.2,653.2h9M266.2,590.3V660.7M261.7,590.3h9M261.7,660.7h9M283.8,580.9V650M279.3,580.9h9M279.3,650h9M301.3,581.3V647.9M296.8,581.3h9M296.8,647.9h9M318.8,582.3V645.8M314.3,582.3h9M314.3,645.8h9M336.4,548.3V613.4M331.9,548.3h9M331.9,613.4h9M353.9,556.5V624.8M349.4,556.5h9M349.4,624.8h9M371.4,532.3V595.6M366.9,532.3h9M366.9,595.6h9M389.0,518.8V582.8M384.5,518.8h9M384.5,582.8h9M406.5,509.8V565.1M402.0,509.8h9M402.0,565.1h9M424.0,496.8V550.2M419.5,496.8h9M419.5,550.2h9M441.5,503.1V558.8M437.0,503.1h9M437.0,558.8h9M459.1,502V558.8M454.6,502h9M454.6,558.8h9M476.6,493.6V547.6M472.1,493.6h9M472.1,547.6h9M494.1,494V550.8M489.6,494h9M489.6,550.8h9M511.7,491.3V542.4M507.2,491.3h9M507.2,542.4h9M529.2,480V531.5M524.7,480h9M524.7,531.5h9M546.7,483.5V533.6M542.2,483.5h9M542.2,533.6h9M564.2,481.4V531.3M559.8,481.4h9M559.8,531.3h9M581.8,475.8V523.5M577.3,475.8h9M577.3,523.5h9M599.3,485.6V536.1M594.8,485.6h9M594.8,536.1h9M616.8,473V520.7M612.3,473h9M612.3,520.7h9M634.4,466.1V508.8M629.9,466.1h9M629.9,508.8h9M651.9,487.3V539.7M647.4,487.3h9M647.4,539.7h9" fill="none" stroke="#000" stroke-width="1.6"/>
</g>
<g clip-path="url(#cd)">
<line x1="266.4" x2="266.4" y1="682.2" y2="894.0" stroke="#000" stroke-opacity="0.5" stroke-width="4.7"/>
<circle cx="126.0" cy="718.7" r="3.05" fill="#000"/>
<circle cx="143.5" cy="720.6" r="3.05" fill="#000"/>
<circle cx="161.1" cy="720.6" r="3.05" fill="#000"/>
<circle cx="178.6" cy="721.8" r="3.05" fill="#000"/>
<circle cx="196.1" cy="722.2" r="3.05" fill="#000"/>
<circle cx="213.7" cy="714.5" r="3.05" fill="#000"/>
<circle cx="231.2" cy="719.7" r="3.05" fill="#000"/>
<circle cx="248.7" cy="719.7" r="3.05" fill="#000"/>
<circle cx="266.2" cy="721.2" r="3.05" fill="#000"/>
<circle cx="283.8" cy="724.3" r="3.05" fill="#000"/>
<circle cx="301.3" cy="724.3" r="3.05" fill="#000"/>
<circle cx="318.8" cy="736.3" r="3.05" fill="#000"/>
<circle cx="336.4" cy="732.8" r="3.05" fill="#000"/>
<circle cx="353.9" cy="725.4" r="3.05" fill="#000"/>
<circle cx="371.4" cy="751" r="3.05" fill="#000"/>
<circle cx="389.0" cy="753.1" r="3.05" fill="#000"/>
<circle cx="406.5" cy="776.3" r="3.05" fill="#000"/>
<circle cx="424.0" cy="785.3" r="3.05" fill="#000"/>
<circle cx="441.5" cy="778.4" r="3.05" fill="#000"/>
<circle cx="459.1" cy="765.3" r="3.05" fill="#000"/>
<circle cx="476.6" cy="779" r="3.05" fill="#000"/>
<circle cx="494.1" cy="784.9" r="3.05" fill="#000"/>
<circle cx="511.7" cy="792.2" r="3.05" fill="#000"/>
<circle cx="529.2" cy="804.2" r="3.05" fill="#000"/>
<circle cx="546.7" cy="802.6" r="3.05" fill="#000"/>
<circle cx="564.2" cy="806.8" r="3.05" fill="#000"/>
<circle cx="581.8" cy="821.7" r="3.05" fill="#000"/>
<circle cx="599.3" cy="806.8" r="3.05" fill="#000"/>
<circle cx="616.8" cy="824.4" r="3.05" fill="#000"/>
<circle cx="634.4" cy="846.3" r="3.05" fill="#000"/>
<circle cx="651.9" cy="792.2" r="3.05" fill="#000"/>
<polygon points="126.0,709.8 130.4,709.9 134.8,710.0 139.1,710.1 143.5,710.2 147.9,710.2 152.3,710.2 156.7,710.2 161.1,710.2 165.4,710.1 169.8,710.0 174.2,710.0 178.6,710.0 183.0,709.9 187.4,709.9 191.7,709.9 196.1,709.9 200.5,709.9 204.9,709.9 209.3,709.9 213.7,709.9 218.0,709.9 222.4,710.0 226.8,710.1 231.2,710.2 235.6,710.3 239.9,710.5 244.3,710.7 248.7,711.0 253.1,711.3 257.5,711.6 261.9,712.0 266.2,712.5 270.6,713.0 275.0,713.6 279.4,714.2 283.8,714.9 288.2,715.6 292.5,716.4 296.9,717.3 301.3,718.3 305.7,719.3 310.1,720.4 314.4,721.5 318.8,722.7 323.2,724.0 327.6,725.3 332.0,726.7 336.4,728.1 340.7,729.6 345.1,731.1 349.5,732.7 353.9,734.3 358.3,735.9 362.7,737.5 367.0,739.1 371.4,740.8 375.8,742.4 380.2,744.0 384.6,745.7 389.0,747.3 393.3,748.8 397.7,750.4 402.1,751.9 406.5,753.4 410.9,754.9 415.2,756.4 419.6,757.8 424.0,759.3 428.4,760.7 432.8,762.1 437.2,763.5 441.5,764.9 445.9,766.2 450.3,767.6 454.7,769.0 459.1,770.3 463.5,771.7 467.8,773.0 472.2,774.4 476.6,775.7 481.0,777.0 485.4,778.3 489.7,779.6 494.1,781.0 498.5,782.3 502.9,783.6 507.3,784.8 511.7,786.1 516.0,787.4 520.4,788.6 524.8,789.8 529.2,791.0 533.6,792.2 538.0,793.4 542.3,794.5 546.7,795.6 551.1,796.7 555.5,797.8 559.9,798.9 564.3,800.0 568.6,801.1 573.0,802.1 577.4,803.1 581.8,804.0 586.2,804.9 590.5,805.7 594.9,806.4 599.3,806.9 603.7,807.4 608.1,807.7 612.5,808.0 616.8,808.3 621.2,808.5 625.6,808.5 630.0,808.5 634.4,808.4 638.8,808.3 643.1,808.0 647.5,807.6 651.9,807.2 651.9,834.0 647.5,833.0 643.1,832.0 638.8,831.0 634.4,830.0 630.0,829.1 625.6,828.1 621.2,827.2 616.8,826.2 612.5,825.3 608.1,824.3 603.7,823.4 599.3,822.4 594.9,821.5 590.5,820.7 586.2,819.9 581.8,819.1 577.4,818.3 573.0,817.5 568.6,816.7 564.3,815.9 559.9,815.0 555.5,814.2 551.1,813.2 546.7,812.2 542.3,811.2 538.0,810.1 533.6,809.1 529.2,808.0 524.8,806.9 520.4,805.7 516.0,804.6 511.7,803.4 507.3,802.2 502.9,801.0 498.5,799.7 494.1,798.5 489.7,797.2 485.4,795.9 481.0,794.6 476.6,793.3 472.2,792.0 467.8,790.6 463.5,789.3 459.1,787.9 454.7,786.6 450.3,785.2 445.9,783.8 441.5,782.4 437.2,781.0 432.8,779.6 428.4,778.2 424.0,776.8 419.6,775.3 415.2,773.9 410.9,772.4 406.5,770.9 402.1,769.4 397.7,767.8 393.3,766.3 389.0,764.7 384.6,763.1 380.2,761.4 375.8,759.8 371.4,758.1 367.0,756.5 362.7,754.8 358.3,753.2 353.9,751.6 349.5,750.0 345.1,748.4 340.7,746.8 336.4,745.3 332.0,743.9 327.6,742.5 323.2,741.1 318.8,739.8 314.4,738.6 310.1,737.4 305.7,736.3 301.3,735.3 296.9,734.3 292.5,733.4 288.2,732.5 283.8,731.7 279.4,731.0 275.0,730.3 270.6,729.7 266.2,729.1 261.9,728.6 257.5,728.1 253.1,727.7 248.7,727.3 244.3,726.9 239.9,726.7 235.6,726.4 231.2,726.2 226.8,726.1 222.4,726.0 218.0,725.9 213.7,725.9 209.3,726.0 204.9,726.1 200.5,726.3 196.1,726.5 191.7,726.8 187.4,727.2 183.0,727.6 178.6,728.0 174.2,728.5 169.8,729.0 165.4,729.6 161.1,730.2 156.7,730.8 152.3,731.5 147.9,732.2 143.5,733.1 139.1,733.9 134.8,734.9 130.4,735.8 126.0,736.8" fill="#8c8c8c" fill-opacity="0.4"/>
<polyline points="126.0,723.3 130.4,722.9 134.8,722.4 139.1,722.0 143.5,721.6 147.9,721.2 152.3,720.9 156.7,720.5 161.1,720.2 165.4,719.8 169.8,719.5 174.2,719.3 178.6,719.0 183.0,718.8 187.4,718.6 191.7,718.4 196.1,718.2 200.5,718.1 204.9,718.0 209.3,718.0 213.7,717.9 218.0,717.9 222.4,718.0 226.8,718.1 231.2,718.2 235.6,718.4 239.9,718.6 244.3,718.8 248.7,719.1 253.1,719.5 257.5,719.9 261.9,720.3 266.2,720.8 270.6,721.3 275.0,721.9 279.4,722.6 283.8,723.3 288.2,724.1 292.5,724.9 296.9,725.8 301.3,726.8 305.7,727.8 310.1,728.9 314.4,730.1 318.8,731.3 323.2,732.6 327.6,733.9 332.0,735.3 336.4,736.7 340.7,738.2 345.1,739.8 349.5,741.3 353.9,742.9 358.3,744.5 362.7,746.2 367.0,747.8 371.4,749.5 375.8,751.1 380.2,752.7 384.6,754.4 389.0,756.0 393.3,757.5 397.7,759.1 402.1,760.6 406.5,762.2 410.9,763.6 415.2,765.1 419.6,766.6 424.0,768.0 428.4,769.4 432.8,770.9 437.2,772.3 441.5,773.6 445.9,775.0 450.3,776.4 454.7,777.8 459.1,779.1 463.5,780.5 467.8,781.8 472.2,783.2 476.6,784.5 481.0,785.8 485.4,787.1 489.7,788.4 494.1,789.7 498.5,791.0 502.9,792.3 507.3,793.5 511.7,794.7 516.0,796.0 520.4,797.2 524.8,798.3 529.2,799.5 533.6,800.6 538.0,801.8 542.3,802.8 546.7,803.9 551.1,805.0 555.5,806.0 559.9,807.0 564.3,808.0 568.6,808.9 573.0,809.8 577.4,810.7 581.8,811.6 586.2,812.4 590.5,813.2 594.9,813.9 599.3,814.7 603.7,815.4 608.1,816.0 612.5,816.7 616.8,817.2 621.2,817.8 625.6,818.3 630.0,818.8 634.4,819.2 638.8,819.6 643.1,820.0 647.5,820.3 651.9,820.6" fill="none" stroke="#000" stroke-width="2.05" stroke-linejoin="round"/>
<path d="M126.0,695.3V742.2M121.5,695.3h9M121.5,742.2h9M143.5,697.7V744.7M139.0,697.7h9M139.0,744.7h9M161.1,697V743.9M156.6,697h9M156.6,743.9h9M178.6,698.1V746.4M174.1,698.1h9M174.1,746.4h9M196.1,699.1V745.8M191.6,699.1h9M191.6,745.8h9M213.7,692.2V737.6M209.2,692.2h9M209.2,737.6h9M231.2,696V743.9M226.7,696h9M226.7,743.9h9M248.7,696V743.7M244.2,696h9M244.2,743.7h9M266.2,697V745.4M261.7,697h9M261.7,745.4h9M283.8,700.2V748.5M279.3,700.2h9M279.3,748.5h9M301.3,700.2V748.5M296.8,700.2h9M296.8,748.5h9M318.8,709.6V761.8M314.3,709.6h9M314.3,761.8h9M336.4,703.7V762.2M331.9,703.7h9M331.9,762.2h9M353.9,697.7V752.7M349.4,697.7h9M349.4,752.7h9M371.4,718V783.6M366.9,718h9M366.9,783.6h9M389.0,715.9V789.9M384.5,715.9h9M384.5,789.9h9M406.5,738V814.3M402.0,738h9M402.0,814.3h9M424.0,745V825.7M419.5,745h9M419.5,825.7h9M441.5,739.1V817.9M437.0,739.1h9M437.0,817.9h9M459.1,725V805.5M454.6,725h9M454.6,805.5h9M476.6,736.5V821.7M472.1,736.5h9M472.1,821.7h9M494.1,740.7V829.9M489.6,740.7h9M489.6,829.9h9M511.7,751.7V833.2M507.2,751.7h9M507.2,833.2h9M529.2,756.7V852.2M524.7,756.7h9M524.7,852.2h9M546.7,759V847.3M542.2,759h9M542.2,847.3h9M564.2,762.2V850.9M559.8,762.2h9M559.8,850.9h9M581.8,774.8V868.6M577.3,774.8h9M577.3,868.6h9M599.3,763.7V849.9M594.8,763.7h9M594.8,849.9h9M616.8,776.1V873M612.3,776.1h9M612.3,873h9M634.4,797.9V896M629.9,797.9h9M629.9,896h9M651.9,747.5V837.9M647.4,747.5h9M647.4,837.9h9" fill="none" stroke="#000" stroke-width="1.6"/>
</g>
<g clip-path="url(#ce)">
<line x1="301.1" x2="301.1" y1="897.5" y2="1122.3" stroke="#000" stroke-opacity="0.5" stroke-width="4.7"/>
<circle cx="126.0" cy="1017.6" r="3.05" fill="#000"/>
<circle cx="143.5" cy="1023.5" r="3.05" fill="#000"/>
<circle cx="161.1" cy="1024.1" r="3.05" fill="#000"/>
<circle cx="178.6" cy="1021.2" r="3.05" fill="#000"/>
<circle cx="196.1" cy="1022.4" r="3.05" fill="#000"/>
<circle cx="213.7" cy="1031.3" r="3.05" fill="#000"/>
<circle cx="231.2" cy="1005.2" r="3.05" fill="#000"/>
<circle cx="248.7" cy="1005.6" r="3.05" fill="#000"/>
<circle cx="266.2" cy="1056.7" r="3.05" fill="#000"/>
<circle cx="283.8" cy="1056.7" r="3.05" fill="#000"/>
<circle cx="301.3" cy="1058.2" r="3.05" fill="#000"/>
<circle cx="318.8" cy="1075.6" r="3.05" fill="#000"/>
<circle cx="336.4" cy="1049.1" r="3.05" fill="#000"/>
<circle cx="353.9" cy="1042.4" r="3.05" fill="#000"/>
<circle cx="371.4" cy="1016.1" r="3.05" fill="#000"/>
<circle cx="389.0" cy="993.2" r="3.05" fill="#000"/>
<circle cx="406.5" cy="985.6" r="3.05" fill="#000"/>
<circle cx="424.0" cy="976.6" r="3.05" fill="#000"/>
<circle cx="441.5" cy="982.9" r="3.05" fill="#000"/>
<circle cx="459.1" cy="993.6" r="3.05" fill="#000"/>
<circle cx="476.6" cy="978.3" r="3.05" fill="#000"/>
<circle cx="494.1" cy="978.3" r="3.05" fill="#000"/>
<circle cx="511.7" cy="980.4" r="3.05" fill="#000"/>
<circle cx="529.2" cy="970.3" r="3.05" fill="#000"/>
<circle cx="546.7" cy="961.5" r="3.05" fill="#000"/>
<circle cx="564.2" cy="957.7" r="3.05" fill="#000"/>
<circle cx="581.8" cy="955.2" r="3.05" fill="#000"/>
<circle cx="599.3" cy="974.1" r="3.05" fill="#000"/>
<circle cx="616.8" cy="973" r="3.05" fill="#000"/>
<circle cx="634.4" cy="937.7" r="3.05" fill="#000"/>
<circle cx="651.9" cy="934.1" r="3.05" fill="#000"/>
<polygon points="126.0,986.8 130.4,989.7 134.8,992.5 139.1,995.2 143.5,997.8 147.9,1000.3 152.3,1002.6 156.7,1004.8 161.1,1006.8 165.4,1008.7 169.8,1010.5 174.2,1012.3 178.6,1014.0 183.0,1015.6 187.4,1017.1 191.7,1018.6 196.1,1020.0 200.5,1021.3 204.9,1022.5 209.3,1023.6 213.7,1024.6 218.0,1025.5 222.4,1026.3 226.8,1027.1 231.2,1027.8 235.6,1028.4 239.9,1029.0 244.3,1029.5 248.7,1030.1 253.1,1030.6 257.5,1031.1 261.9,1031.6 266.2,1032.0 270.6,1032.4 275.0,1032.8 279.4,1033.1 283.8,1033.3 288.2,1033.5 292.5,1033.6 296.9,1033.7 301.3,1033.6 305.7,1033.4 310.1,1033.1 314.4,1032.6 318.8,1031.9 323.2,1031.0 327.6,1029.8 332.0,1028.5 336.4,1026.9 340.7,1025.0 345.1,1022.8 349.5,1020.5 353.9,1018.1 358.3,1015.6 362.7,1013.1 367.0,1010.6 371.4,1008.1 375.8,1005.8 380.2,1003.6 384.6,1001.4 389.0,999.2 393.3,997.0 397.7,994.8 402.1,992.5 406.5,990.3 410.9,988.0 415.2,985.7 419.6,983.5 424.0,981.3 428.4,979.2 432.8,977.1 437.2,975.1 441.5,973.2 445.9,971.5 450.3,969.8 454.7,968.2 459.1,966.8 463.5,965.6 467.8,964.5 472.2,963.5 476.6,962.6 481.0,961.8 485.4,961.1 489.7,960.4 494.1,959.8 498.5,959.2 502.9,958.6 507.3,958.0 511.7,957.5 516.0,956.9 520.4,956.3 524.8,955.7 529.2,955.0 533.6,954.4 538.0,953.7 542.3,953.0 546.7,952.3 551.1,951.7 555.5,951.0 559.9,950.3 564.3,949.6 568.6,948.9 573.0,948.2 577.4,947.5 581.8,946.7 586.2,946.0 590.5,945.3 594.9,944.3 599.3,943.2 603.7,941.9 608.1,940.6 612.5,939.2 616.8,937.9 621.2,936.6 625.6,935.3 630.0,933.9 634.4,932.5 638.8,931.0 643.1,929.4 647.5,927.7 651.9,926.0 651.9,967.5 647.5,967.3 643.1,967.0 638.8,966.8 634.4,966.5 630.0,966.3 625.6,966.1 621.2,966.0 616.8,965.8 612.5,965.7 608.1,965.5 603.7,965.4 599.3,965.5 594.9,965.7 590.5,966.3 586.2,967.0 581.8,967.8 577.4,968.7 573.0,969.6 568.6,970.6 564.3,971.5 559.9,972.5 555.5,973.5 551.1,974.5 546.7,975.5 542.3,976.4 538.0,977.3 533.6,978.2 529.2,979.0 524.8,979.8 520.4,980.5 516.0,981.3 511.7,982.0 507.3,982.7 502.9,983.4 498.5,984.1 494.1,984.8 489.7,985.5 485.4,986.2 481.0,987.0 476.6,987.8 472.2,988.7 467.8,989.7 463.5,990.8 459.1,992.0 454.7,993.4 450.3,995.0 445.9,996.6 441.5,998.4 437.2,1000.3 432.8,1002.3 428.4,1004.3 424.0,1006.4 419.6,1008.6 415.2,1010.8 410.9,1013.1 406.5,1015.3 402.1,1017.6 397.7,1019.8 393.3,1022.1 389.0,1024.3 384.6,1026.4 380.2,1028.6 375.8,1030.8 371.4,1033.1 367.0,1035.6 362.7,1038.1 358.3,1040.8 353.9,1043.4 349.5,1046.0 345.1,1048.5 340.7,1050.8 336.4,1052.8 332.0,1054.6 327.6,1056.2 323.2,1057.5 318.8,1058.5 314.4,1059.4 310.1,1060.0 305.7,1060.4 301.3,1060.6 296.9,1060.6 292.5,1060.5 288.2,1060.2 283.8,1059.8 279.4,1059.3 275.0,1058.6 270.6,1057.9 266.2,1057.2 261.9,1056.5 257.5,1055.7 253.1,1054.9 248.7,1054.1 244.3,1053.3 239.9,1052.4 235.6,1051.4 231.2,1050.5 226.8,1049.5 222.4,1048.5 218.0,1047.6 213.7,1046.6 209.3,1045.7 204.9,1044.8 200.5,1043.9 196.1,1043.1 191.7,1042.2 187.4,1041.3 183.0,1040.5 178.6,1039.6 174.2,1038.7 169.8,1037.7 165.4,1036.8 161.1,1035.8 156.7,1034.8 152.3,1033.9 147.9,1033.0 143.5,1032.1 139.1,1031.3 134.8,1030.5 130.4,1029.7 126.0,1028.8" fill="#8c8c8c" fill-opacity="0.4"/>
<polyline points="126.0,1007.8 130.4,1009.7 134.8,1011.5 139.1,1013.3 143.5,1015.0 147.9,1016.6 152.3,1018.2 156.7,1019.8 161.1,1021.3 165.4,1022.7 169.8,1024.1 174.2,1025.5 178.6,1026.8 183.0,1028.0 187.4,1029.2 191.7,1030.4 196.1,1031.5 200.5,1032.6 204.9,1033.7 209.3,1034.7 213.7,1035.6 218.0,1036.6 222.4,1037.4 226.8,1038.3 231.2,1039.1 235.6,1039.9 239.9,1040.7 244.3,1041.4 248.7,1042.1 253.1,1042.8 257.5,1043.4 261.9,1044.0 266.2,1044.6 270.6,1045.2 275.0,1045.7 279.4,1046.2 283.8,1046.6 288.2,1046.9 292.5,1047.1 296.9,1047.1 301.3,1047.1 305.7,1046.9 310.1,1046.5 314.4,1046.0 318.8,1045.2 323.2,1044.2 327.6,1043.0 332.0,1041.6 336.4,1039.8 340.7,1037.9 345.1,1035.6 349.5,1033.3 353.9,1030.8 358.3,1028.2 362.7,1025.6 367.0,1023.1 371.4,1020.6 375.8,1018.3 380.2,1016.1 384.6,1013.9 389.0,1011.7 393.3,1009.5 397.7,1007.3 402.1,1005.0 406.5,1002.8 410.9,1000.5 415.2,998.3 419.6,996.0 424.0,993.9 428.4,991.7 432.8,989.7 437.2,987.7 441.5,985.8 445.9,984.0 450.3,982.4 454.7,980.8 459.1,979.4 463.5,978.2 467.8,977.1 472.2,976.1 476.6,975.2 481.0,974.4 485.4,973.7 489.7,973.0 494.1,972.3 498.5,971.7 502.9,971.0 507.3,970.4 511.7,969.7 516.0,969.1 520.4,968.4 524.8,967.7 529.2,967.0 533.6,966.3 538.0,965.5 542.3,964.7 546.7,963.9 551.1,963.1 555.5,962.2 559.9,961.4 564.3,960.6 568.6,959.7 573.0,958.9 577.4,958.1 581.8,957.3 586.2,956.5 590.5,955.8 594.9,955.0 599.3,954.3 603.7,953.7 608.1,953.1 612.5,952.5 616.8,951.9 621.2,951.3 625.6,950.7 630.0,950.1 634.4,949.5 638.8,948.9 643.1,948.2 647.5,947.5 651.9,946.8" fill="none" stroke="#000" stroke-width="2.05" stroke-linejoin="round"/>
<path d="M126.0,982.1V1053.5M121.5,982.1h9M121.5,1053.5h9M143.5,988.4V1059.2M139.0,988.4h9M139.0,1059.2h9M161.1,987.8V1060.9M156.6,987.8h9M156.6,1060.9h9M178.6,983.1V1058.8M174.1,983.1h9M174.1,1058.8h9M196.1,984.6V1059.9M191.6,984.6h9M191.6,1059.9h9M213.7,994.1V1068.3M209.2,994.1h9M209.2,1068.3h9M231.2,969.9V1039.9M226.7,969.9h9M226.7,1039.9h9M248.7,970.9V1040.7M244.2,970.9h9M244.2,1040.7h9M266.2,1019.7V1093.5M261.7,1019.7h9M261.7,1093.5h9M283.8,1020.3V1092.9M279.3,1020.3h9M279.3,1092.9h9M301.3,1021.4V1095M296.8,1021.4h9M296.8,1095h9M318.8,1039.3V1112.2M314.3,1039.3h9M314.3,1112.2h9M336.4,1011.3V1087M331.9,1011.3h9M331.9,1087h9M353.9,1006.3V1079.2M349.4,1006.3h9M349.4,1079.2h9M371.4,981.4V1051.5M366.9,981.4h9M366.9,1051.5h9M389.0,959V1027.7M384.5,959h9M384.5,1027.7h9M406.5,952.6V1018.2M402.0,952.6h9M402.0,1018.2h9M424.0,943.6V1009.8M419.5,943.6h9M419.5,1009.8h9M441.5,950.5V1016.1M437.0,950.5h9M437.0,1016.1h9M459.1,958.3V1029.2M454.6,958.3h9M454.6,1029.2h9M476.6,945.1V1011.3M472.1,945.1h9M472.1,1011.3h9M494.1,945.7V1010.5M489.6,945.7h9M489.6,1010.5h9M511.7,949.9V1010.9M507.2,949.9h9M507.2,1010.9h9M529.2,939V1002M524.7,939h9M524.7,1002h9M546.7,929.3V993M542.2,929.3h9M542.2,993h9M564.2,927.4V988.2M559.8,927.4h9M559.8,988.2h9M581.8,924.7V985M577.3,924.7h9M577.3,985h9M599.3,941.5V1006.2M594.8,941.5h9M594.8,1006.2h9M616.8,940.9V1004.1M612.3,940.9h9M612.3,1004.1h9M634.4,910.4V964.6M629.9,910.4h9M629.9,964.6h9M651.9,906.4V961.1M647.4,906.4h9M647.4,961.1h9" fill="none" stroke="#000" stroke-width="1.6"/>
</g>
<g clip-path="url(#cf)">
<line x1="318.8" x2="318.8" y1="1122.3" y2="1344.2" stroke="#000" stroke-opacity="0.5" stroke-width="4.7"/>
<circle cx="126.0" cy="1159.6" r="3.05" fill="#000"/>
<circle cx="143.5" cy="1163.8" r="3.05" fill="#000"/>
<circle cx="161.1" cy="1164" r="3.05" fill="#000"/>
<circle cx="178.6" cy="1164.4" r="3.05" fill="#000"/>
<circle cx="196.1" cy="1163.8" r="3.05" fill="#000"/>
<circle cx="213.7" cy="1166.1" r="3.05" fill="#000"/>
<circle cx="231.2" cy="1177.6" r="3.05" fill="#000"/>
<circle cx="248.7" cy="1176.6" r="3.05" fill="#000"/>
<circle cx="266.2" cy="1147.8" r="3.05" fill="#000"/>
<circle cx="283.8" cy="1157" r="3.05" fill="#000"/>
<circle cx="301.3" cy="1157.5" r="3.05" fill="#000"/>
<circle cx="318.8" cy="1159.1" r="3.05" fill="#000"/>
<circle cx="336.4" cy="1156" r="3.05" fill="#000"/>
<circle cx="353.9" cy="1158.5" r="3.05" fill="#000"/>
<circle cx="371.4" cy="1174.5" r="3.05" fill="#000"/>
<circle cx="389.0" cy="1189.2" r="3.05" fill="#000"/>
<circle cx="406.5" cy="1201.6" r="3.05" fill="#000"/>
<circle cx="424.0" cy="1206.7" r="3.05" fill="#000"/>
<circle cx="441.5" cy="1195.9" r="3.05" fill="#000"/>
<circle cx="459.1" cy="1182.9" r="3.05" fill="#000"/>
<circle cx="476.6" cy="1200.3" r="3.05" fill="#000"/>
<circle cx="494.1" cy="1210.6" r="3.05" fill="#000"/>
<circle cx="511.7" cy="1207.5" r="3.05" fill="#000"/>
<circle cx="529.2" cy="1215.9" r="3.05" fill="#000"/>
<circle cx="546.7" cy="1224.7" r="3.05" fill="#000"/>
<circle cx="564.2" cy="1228.1" r="3.05" fill="#000"/>
<circle cx="581.8" cy="1232.7" r="3.05" fill="#000"/>
<circle cx="599.3" cy="1209" r="3.05" fill="#000"/>
<circle cx="616.8" cy="1214.2" r="3.05" fill="#000"/>
<circle cx="634.4" cy="1262.2" r="3.05" fill="#000"/>
<circle cx="651.9" cy="1269.5" r="3.05" fill="#000"/>
<polygon points="126.0,1151.3 130.4,1151.6 134.8,1151.9 139.1,1152.1 143.5,1152.3 147.9,1152.5 152.3,1152.7 156.7,1152.7 161.1,1152.8 165.4,1152.8 169.8,1152.7 174.2,1152.7 178.6,1152.7 183.0,1152.7 187.4,1152.6 191.7,1152.6 196.1,1152.5 200.5,1152.4 204.9,1152.3 209.3,1152.2 213.7,1152.0 218.0,1151.9 222.4,1151.7 226.8,1151.6 231.2,1151.5 235.6,1151.4 239.9,1151.3 244.3,1151.2 248.7,1151.1 253.1,1151.1 257.5,1151.1 261.9,1151.1 266.2,1151.1 270.6,1151.1 275.0,1151.2 279.4,1151.3 283.8,1151.4 288.2,1151.5 292.5,1151.7 296.9,1152.0 301.3,1152.3 305.7,1152.6 310.1,1153.1 314.4,1153.5 318.8,1154.1 323.2,1154.7 327.6,1155.4 332.0,1156.2 336.4,1157.1 340.7,1158.0 345.1,1159.0 349.5,1160.2 353.9,1161.3 358.3,1162.6 362.7,1163.9 367.0,1165.2 371.4,1166.6 375.8,1167.9 380.2,1169.4 384.6,1170.8 389.0,1172.2 393.3,1173.6 397.7,1175.0 402.1,1176.4 406.5,1177.8 410.9,1179.1 415.2,1180.5 419.6,1181.8 424.0,1183.1 428.4,1184.4 432.8,1185.6 437.2,1186.8 441.5,1188.0 445.9,1189.1 450.3,1190.2 454.7,1191.3 459.1,1192.3 463.5,1193.3 467.8,1194.2 472.2,1195.1 476.6,1196.0 481.0,1196.9 485.4,1197.7 489.7,1198.5 494.1,1199.3 498.5,1200.1 502.9,1200.9 507.3,1201.7 511.7,1202.6 516.0,1203.4 520.4,1204.3 524.8,1205.2 529.2,1206.1 533.6,1207.1 538.0,1208.2 542.3,1209.3 546.7,1210.5 551.1,1211.7 555.5,1213.0 559.9,1214.3 564.3,1215.6 568.6,1217.0 573.0,1218.3 577.4,1219.7 581.8,1221.1 586.2,1222.5 590.5,1223.9 594.9,1225.2 599.3,1226.3 603.7,1227.3 608.1,1228.3 612.5,1229.2 616.8,1230.3 621.2,1231.3 625.6,1232.4 630.0,1233.4 634.4,1234.4 638.8,1235.4 643.1,1236.4 647.5,1237.4 651.9,1238.4 651.9,1268.3 647.5,1266.1 643.1,1263.9 638.8,1261.7 634.4,1259.5 630.0,1257.4 625.6,1255.3 621.2,1253.2 616.8,1251.2 612.5,1249.2 608.1,1247.2 603.7,1245.2 599.3,1243.2 594.9,1241.5 590.5,1239.9 586.2,1238.6 581.8,1237.2 577.4,1235.9 573.0,1234.7 568.6,1233.5 564.3,1232.4 559.9,1231.2 555.5,1230.2 551.1,1229.1 546.7,1228.1 542.3,1227.1 538.0,1226.1 533.6,1225.1 529.2,1224.1 524.8,1223.2 520.4,1222.3 516.0,1221.4 511.7,1220.6 507.3,1219.7 502.9,1218.9 498.5,1218.1 494.1,1217.3 489.7,1216.5 485.4,1215.7 481.0,1214.9 476.6,1214.0 472.2,1213.1 467.8,1212.2 463.5,1211.3 459.1,1210.3 454.7,1209.3 450.3,1208.2 445.9,1207.1 441.5,1205.9 437.2,1204.7 432.8,1203.5 428.4,1202.2 424.0,1200.9 419.6,1199.6 415.2,1198.2 410.9,1196.9 406.5,1195.5 402.1,1194.1 397.7,1192.7 393.3,1191.2 389.0,1189.8 384.6,1188.3 380.2,1186.9 375.8,1185.5 371.4,1184.0 367.0,1182.7 362.7,1181.3 358.3,1180.0 353.9,1178.7 349.5,1177.5 345.1,1176.4 340.7,1175.3 336.4,1174.3 332.0,1173.5 327.6,1172.7 323.2,1171.9 318.8,1171.3 314.4,1170.8 310.1,1170.3 305.7,1169.8 301.3,1169.5 296.9,1169.2 292.5,1168.9 288.2,1168.8 283.8,1168.6 279.4,1168.5 275.0,1168.4 270.6,1168.4 266.2,1168.4 261.9,1168.4 257.5,1168.5 253.1,1168.5 248.7,1168.6 244.3,1168.7 239.9,1168.9 235.6,1169.0 231.2,1169.2 226.8,1169.4 222.4,1169.6 218.0,1169.8 213.7,1170.1 209.3,1170.3 204.9,1170.7 200.5,1171.0 196.1,1171.4 191.7,1171.9 187.4,1172.4 183.0,1172.9 178.6,1173.4 174.2,1174.0 169.8,1174.6 165.4,1175.2 161.1,1175.8 156.7,1176.4 152.3,1177.1 147.9,1177.9 143.5,1178.7 139.1,1179.6 134.8,1180.5 130.4,1181.4 126.0,1182.3" fill="#8c8c8c" fill-opacity="0.4"/>
<polyline points="126.0,1166.8 130.4,1166.5 134.8,1166.2 139.1,1165.8 143.5,1165.5 147.9,1165.2 152.3,1164.9 156.7,1164.6 161.1,1164.3 165.4,1164.0 169.8,1163.7 174.2,1163.4 178.6,1163.1 183.0,1162.8 187.4,1162.5 191.7,1162.2 196.1,1162.0 200.5,1161.7 204.9,1161.5 209.3,1161.3 213.7,1161.0 218.0,1160.8 222.4,1160.7 226.8,1160.5 231.2,1160.3 235.6,1160.2 239.9,1160.1 244.3,1160.0 248.7,1159.9 253.1,1159.8 257.5,1159.8 261.9,1159.7 266.2,1159.7 270.6,1159.8 275.0,1159.8 279.4,1159.9 283.8,1160.0 288.2,1160.1 292.5,1160.3 296.9,1160.6 301.3,1160.9 305.7,1161.2 310.1,1161.7 314.4,1162.1 318.8,1162.7 323.2,1163.3 327.6,1164.0 332.0,1164.8 336.4,1165.7 340.7,1166.7 345.1,1167.7 349.5,1168.8 353.9,1170.0 358.3,1171.3 362.7,1172.6 367.0,1173.9 371.4,1175.3 375.8,1176.7 380.2,1178.1 384.6,1179.6 389.0,1181.0 393.3,1182.4 397.7,1183.8 402.1,1185.2 406.5,1186.6 410.9,1188.0 415.2,1189.4 419.6,1190.7 424.0,1192.0 428.4,1193.3 432.8,1194.5 437.2,1195.8 441.5,1196.9 445.9,1198.1 450.3,1199.2 454.7,1200.3 459.1,1201.3 463.5,1202.3 467.8,1203.2 472.2,1204.1 476.6,1205.0 481.0,1205.9 485.4,1206.7 489.7,1207.5 494.1,1208.3 498.5,1209.1 502.9,1209.9 507.3,1210.7 511.7,1211.6 516.0,1212.4 520.4,1213.3 524.8,1214.2 529.2,1215.1 533.6,1216.1 538.0,1217.1 542.3,1218.2 546.7,1219.3 551.1,1220.4 555.5,1221.6 559.9,1222.8 564.3,1224.0 568.6,1225.2 573.0,1226.5 577.4,1227.8 581.8,1229.2 586.2,1230.5 590.5,1231.9 594.9,1233.3 599.3,1234.8 603.7,1236.2 608.1,1237.7 612.5,1239.2 616.8,1240.7 621.2,1242.3 625.6,1243.8 630.0,1245.4 634.4,1247.0 638.8,1248.5 643.1,1250.1 647.5,1251.7 651.9,1253.3" fill="none" stroke="#000" stroke-width="2.05" stroke-linejoin="round"/>
<path d="M126.0,1135V1184.4M121.5,1135h9M121.5,1184.4h9M143.5,1139.6V1187.5M139.0,1139.6h9M139.0,1187.5h9M161.1,1140.2V1187.1M156.6,1140.2h9M156.6,1187.1h9M178.6,1138.8V1189.2M174.1,1138.8h9M174.1,1189.2h9M196.1,1136.4V1190.3M191.6,1136.4h9M191.6,1190.3h9M213.7,1142.7V1189.2M209.2,1142.7h9M209.2,1189.2h9M231.2,1145.9V1210.2M226.7,1145.9h9M226.7,1210.2h9M248.7,1146.5V1206.9M244.2,1146.5h9M244.2,1206.9h9M266.2,1132.9V1162.9M261.7,1132.9h9M261.7,1162.9h9M283.8,1139.8V1174.5M279.3,1139.8h9M279.3,1174.5h9M301.3,1139.6V1175.3M296.8,1139.6h9M296.8,1175.3h9M318.8,1141.3V1177.4M314.3,1141.3h9M314.3,1177.4h9M336.4,1137.7V1173.9M331.9,1137.7h9M331.9,1173.9h9M353.9,1138.1V1178.7M349.4,1138.1h9M349.4,1178.7h9M371.4,1147V1201.6M366.9,1147h9M366.9,1201.6h9M389.0,1152.4V1226.4M384.5,1152.4h9M384.5,1226.4h9M406.5,1163.8V1239.4M402.0,1163.8h9M402.0,1239.4h9M424.0,1162.7V1251M419.5,1162.7h9M419.5,1251h9M441.5,1157.7V1234.4M437.0,1157.7h9M437.0,1234.4h9M459.1,1146.5V1219.1M454.6,1146.5h9M454.6,1219.1h9M476.6,1156V1245.3M472.1,1156h9M472.1,1245.3h9M494.1,1168V1252.7M489.6,1168h9M489.6,1252.7h9M511.7,1169.7V1245.8M507.2,1169.7h9M507.2,1245.8h9M529.2,1170.1V1261.1M524.7,1170.1h9M524.7,1261.1h9M546.7,1173.9V1276.9M542.2,1173.9h9M542.2,1276.9h9M564.2,1176.6V1279.4M559.8,1176.6h9M559.8,1279.4h9M581.8,1180.8V1284.6M577.3,1180.8h9M577.3,1284.6h9M599.3,1165.9V1252.3M594.8,1165.9h9M594.8,1252.3h9M616.8,1170.7V1258.6M612.3,1170.7h9M612.3,1258.6h9M634.4,1197V1326.3M629.9,1197h9M629.9,1326.3h9M651.9,1203.9V1334.7M647.4,1203.9h9M647.4,1334.7h9" fill="none" stroke="#000" stroke-width="1.6"/>
</g>
<rect x="117.5" y="448.8" width="534.8" height="8.4" fill="#000"/>
<rect x="117.5" y="890.0" width="534.8" height="8.0" fill="#000"/>
<text x="0.5" y="30.7" font-family="Liberation Sans, Arial, Helvetica, sans-serif" font-size="27.5" font-weight="bold" fill="#000">(a)</text>
<text transform="translate(57.3,119.7) rotate(-90)" text-anchor="middle" font-family="Liberation Sans, Arial, Helvetica, sans-serif" font-size="24.8" fill="#000" stroke="#000" stroke-width="0.35">Mean Body Mass</text>
<line x1="115.6" x2="118" y1="64.2" y2="64.2" stroke="#555" stroke-width="1.2"/>
<text x="113.6" y="71.2" text-anchor="end" font-family="Liberation Sans, Arial, Helvetica, sans-serif" font-size="18.3" fill="#111" stroke="#111" stroke-width="0.3">6.50</text>
<line x1="115.6" x2="118" y1="114.2" y2="114.2" stroke="#555" stroke-width="1.2"/>
<text x="113.6" y="121.2" text-anchor="end" font-family="Liberation Sans, Arial, Helvetica, sans-serif" font-size="18.3" fill="#111" stroke="#111" stroke-width="0.3">6.00</text>
<line x1="115.6" x2="118" y1="164.2" y2="164.2" stroke="#555" stroke-width="1.2"/>
<text x="113.6" y="171.2" text-anchor="end" font-family="Liberation Sans, Arial, Helvetica, sans-serif" font-size="18.3" fill="#111" stroke="#111" stroke-width="0.3">5.50</text>
<text x="0.5" y="256.3" font-family="Liberation Sans, Arial, Helvetica, sans-serif" font-size="27.5" font-weight="bold" fill="#000">(b)</text>
<text transform="translate(57.3,343.0) rotate(-90)" text-anchor="middle" font-family="Liberation Sans, Arial, Helvetica, sans-serif" font-size="24.8" fill="#000" stroke="#000" stroke-width="0.35">SD Body Mass</text>
<line x1="115.6" x2="118" y1="287.9" y2="287.9" stroke="#555" stroke-width="1.2"/>
<text x="113.6" y="294.9" text-anchor="end" font-family="Liberation Sans, Arial, Helvetica, sans-serif" font-size="18.3" fill="#111" stroke="#111" stroke-width="0.3">1.60</text>
<line x1="115.6" x2="118" y1="330.4" y2="330.4" stroke="#555" stroke-width="1.2"/>
<text x="113.6" y="337.4" text-anchor="end" font-family="Liberation Sans, Arial, Helvetica, sans-serif" font-size="18.3" fill="#111" stroke="#111" stroke-width="0.3">1.40</text>
<line x1="115.6" x2="118" y1="372.6" y2="372.6" stroke="#555" stroke-width="1.2"/>
<text x="113.6" y="379.6" text-anchor="end" font-family="Liberation Sans, Arial, Helvetica, sans-serif" font-size="18.3" fill="#111" stroke="#111" stroke-width="0.3">1.20</text>
<text x="0.5" y="481.3" font-family="Liberation Sans, Arial, Helvetica, sans-serif" font-size="27.5" font-weight="bold" fill="#000">(c)</text>
<text transform="translate(57.3,569.3) rotate(-90)" text-anchor="middle" font-family="Liberation Sans, Arial, Helvetica, sans-serif" font-size="24.8" fill="#000" stroke="#000" stroke-width="0.35">Mean Hypsodonty</text>
<line x1="115.6" x2="118" y1="509.8" y2="509.8" stroke="#555" stroke-width="1.2"/>
<text x="113.6" y="516.8" text-anchor="end" font-family="Liberation Sans, Arial, Helvetica, sans-serif" font-size="18.3" fill="#111" stroke="#111" stroke-width="0.3">2.60</text>
<line x1="115.6" x2="118" y1="557.1" y2="557.1" stroke="#555" stroke-width="1.2"/>
<text x="113.6" y="564.1" text-anchor="end" font-family="Liberation Sans, Arial, Helvetica, sans-serif" font-size="18.3" fill="#111" stroke="#111" stroke-width="0.3">2.35</text>
<line x1="115.6" x2="118" y1="604.5" y2="604.5" stroke="#555" stroke-width="1.2"/>
<text x="113.6" y="611.5" text-anchor="end" font-family="Liberation Sans, Arial, Helvetica, sans-serif" font-size="18.3" fill="#111" stroke="#111" stroke-width="0.3">2.10</text>
<text x="0.5" y="708.1" font-family="Liberation Sans, Arial, Helvetica, sans-serif" font-size="27.5" font-weight="bold" fill="#000">(d)</text>
<text transform="translate(57.3,793.1) rotate(-90)" text-anchor="middle" font-family="Liberation Sans, Arial, Helvetica, sans-serif" font-size="24.7" fill="#000" stroke="#000" stroke-width="0.35">SD Hypsodonty</text>
<line x1="115.6" x2="118" y1="741.2" y2="741.2" stroke="#555" stroke-width="1.2"/>
<text x="113.6" y="748.2" text-anchor="end" font-family="Liberation Sans, Arial, Helvetica, sans-serif" font-size="18.3" fill="#111" stroke="#111" stroke-width="0.3">0.80</text>
<line x1="115.6" x2="118" y1="779.0" y2="779.0" stroke="#555" stroke-width="1.2"/>
<text x="113.6" y="786.0" text-anchor="end" font-family="Liberation Sans, Arial, Helvetica, sans-serif" font-size="18.3" fill="#111" stroke="#111" stroke-width="0.3">0.70</text>
<line x1="115.6" x2="118" y1="817.3" y2="817.3" stroke="#555" stroke-width="1.2"/>
<text x="113.6" y="824.3" text-anchor="end" font-family="Liberation Sans, Arial, Helvetica, sans-serif" font-size="18.3" fill="#111" stroke="#111" stroke-width="0.3">0.60</text>
<text x="0.5" y="922.5" font-family="Liberation Sans, Arial, Helvetica, sans-serif" font-size="27.5" font-weight="bold" fill="#000">(e)</text>
<text transform="translate(57.3,1010.5) rotate(-90)" text-anchor="middle" font-family="Liberation Sans, Arial, Helvetica, sans-serif" font-size="25.0" fill="#000" stroke="#000" stroke-width="0.35">Mean Loph Count</text>
<line x1="115.6" x2="118" y1="953.1" y2="953.1" stroke="#555" stroke-width="1.2"/>
<text x="113.6" y="960.1" text-anchor="end" font-family="Liberation Sans, Arial, Helvetica, sans-serif" font-size="18.3" fill="#111" stroke="#111" stroke-width="0.3">1.60</text>
<line x1="115.6" x2="118" y1="1000.8" y2="1000.8" stroke="#555" stroke-width="1.2"/>
<text x="113.6" y="1007.8" text-anchor="end" font-family="Liberation Sans, Arial, Helvetica, sans-serif" font-size="18.3" fill="#111" stroke="#111" stroke-width="0.3">1.35</text>
<line x1="115.6" x2="118" y1="1048.2" y2="1048.2" stroke="#555" stroke-width="1.2"/>
<text x="113.6" y="1055.2" text-anchor="end" font-family="Liberation Sans, Arial, Helvetica, sans-serif" font-size="18.3" fill="#111" stroke="#111" stroke-width="0.3">1.10</text>
<text x="0.5" y="1147.3" font-family="Liberation Sans, Arial, Helvetica, sans-serif" font-size="27.5" font-weight="bold" fill="#000">(f)</text>
<text transform="translate(57.3,1233.9) rotate(-90)" text-anchor="middle" font-family="Liberation Sans, Arial, Helvetica, sans-serif" font-size="24.5" fill="#000" stroke="#000" stroke-width="0.35">SD Loph Count</text>
<line x1="115.6" x2="118" y1="1175.3" y2="1175.3" stroke="#555" stroke-width="1.2"/>
<text x="113.6" y="1182.3" text-anchor="end" font-family="Liberation Sans, Arial, Helvetica, sans-serif" font-size="18.3" fill="#111" stroke="#111" stroke-width="0.3">0.90</text>
<line x1="115.6" x2="118" y1="1213.2" y2="1213.2" stroke="#555" stroke-width="1.2"/>
<text x="113.6" y="1220.2" text-anchor="end" font-family="Liberation Sans, Arial, Helvetica, sans-serif" font-size="18.3" fill="#111" stroke="#111" stroke-width="0.3">0.80</text>
<line x1="115.6" x2="118" y1="1251.6" y2="1251.6" stroke="#555" stroke-width="1.2"/>
<text x="113.6" y="1258.6" text-anchor="end" font-family="Liberation Sans, Arial, Helvetica, sans-serif" font-size="18.3" fill="#111" stroke="#111" stroke-width="0.3">0.70</text>
<text transform="translate(137.6,1356.0) rotate(-60)" text-anchor="end" font-family="Liberation Sans, Arial, Helvetica, sans-serif" font-size="18" fill="#111" stroke="#111" stroke-width="0.3">7.5</text>
<text transform="translate(312.8,1356.0) rotate(-60)" text-anchor="end" font-family="Liberation Sans, Arial, Helvetica, sans-serif" font-size="18" fill="#111" stroke="#111" stroke-width="0.3">5.0</text>
<text transform="translate(418.0,1356.0) rotate(-60)" text-anchor="end" font-family="Liberation Sans, Arial, Helvetica, sans-serif" font-size="18" fill="#111" stroke="#111" stroke-width="0.3">3.3</text>
<text transform="translate(453.1,1356.0) rotate(-60)" text-anchor="end" font-family="Liberation Sans, Arial, Helvetica, sans-serif" font-size="18" fill="#111" stroke="#111" stroke-width="0.3">3.0</text>
<text transform="translate(523.1,1356.0) rotate(-60)" text-anchor="end" font-family="Liberation Sans, Arial, Helvetica, sans-serif" font-size="18" fill="#111" stroke="#111" stroke-width="0.3">1.9</text>
<text transform="translate(540.8,1356.0) rotate(-60)" text-anchor="end" font-family="Liberation Sans, Arial, Helvetica, sans-serif" font-size="18" fill="#111" stroke="#111" stroke-width="0.3">1.7</text>
<text transform="translate(593.2,1356.0) rotate(-60)" text-anchor="end" font-family="Liberation Sans, Arial, Helvetica, sans-serif" font-size="18" fill="#111" stroke="#111" stroke-width="0.3">1.0</text>
<text transform="translate(663.4,1356.0) rotate(-60)" text-anchor="end" font-family="Liberation Sans, Arial, Helvetica, sans-serif" font-size="18" fill="#111" stroke="#111" stroke-width="0.3">0.0</text>
<text x="392.4" y="1411.5" text-anchor="middle" font-family="Liberation Sans, Arial, Helvetica, sans-serif" font-size="29.9" fill="#000" stroke="#000" stroke-width="0.4">Time (Million Years Ago)</text>
</svg>
</body></html>
